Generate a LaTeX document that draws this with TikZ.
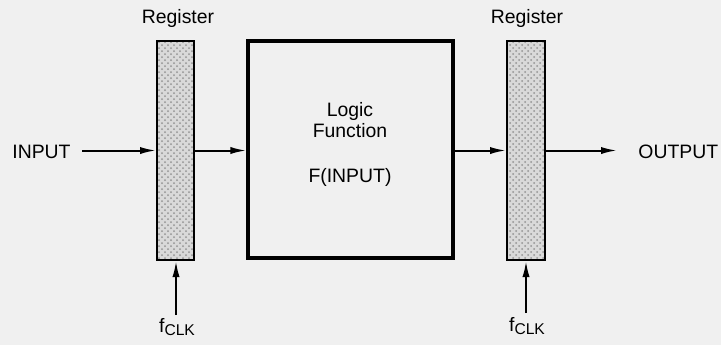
\documentclass[tikz,border=0pt]{standalone}
\usepackage{fontspec}
\setmainfont{Liberation Sans}
\usetikzlibrary{arrows.meta,patterns}
\definecolor{bgcol}{RGB}{240,240,240}
\begin{document}
\begin{tikzpicture}[x=0.5pt,y=-0.5pt,
  font=\fontsize{9.7}{10.5}\selectfont,
  reg/.style={draw, line width=1pt, inner sep=0pt, preaction={fill=gray!30},
    pattern=crosshatch dots, pattern color=gray!85},
  logicbox/.style={draw, line width=1.6pt, inner sep=0pt},
  arr/.style={line width=1pt, -{Latex[length=8pt,width=3.6pt]}},
  lbl/.style={inner sep=0pt}]
\fill[bgcol] (0,0) rectangle (721,345);
\useasboundingbox (0,0) rectangle (721,345);
% blocks
\node[reg, minimum width=18.5pt, minimum height=109.5pt] (r1) at (175.5,150.5) {};
\node[logicbox, minimum width=102.5pt, minimum height=108.5pt] (lf) at (350.5,149.5) {};
\node[reg, minimum width=19pt, minimum height=109.5pt] (r2) at (526,150.5) {};
% labels
\node[lbl, anchor=base] (reg1) at (178,23) {Register};
\node[lbl, anchor=base] (reg2) at (527,23) {Register};
\node[lbl, anchor=base west] (inp) at (12,158) {INPUT};
\node[lbl, anchor=base west] (outp) at (638,158) {OUTPUT};
\node[lbl, anchor=base] (t1) at (350,116) {Logic};
\node[lbl, anchor=base] (t2) at (350,137) {Function};
\node[lbl, anchor=base] (t3) at (350,182) {F(INPUT)};
\node[lbl, anchor=base] (clk1) at (177,332) {f\raisebox{-1.9pt}{\fontsize{7.8}{8}\selectfont CLK}};
\node[lbl, anchor=base] (clk2) at (527,331) {f\raisebox{-1.9pt}{\fontsize{7.8}{8}\selectfont CLK}};
% connector ends
\coordinate (ins) at (82,150.5);
\coordinate (oute) at (617,150.5);
\coordinate (c1) at (176,315);
\coordinate (c2) at (526,313);
% connectors
\draw[arr] (ins) -- (ins -| r1.west);
\draw[arr] (r1.east) -- (r1.east -| lf.west);
\draw[arr] (lf.east |- r2.west) -- (r2.west);
\draw[arr] (r2.east) -- (oute);
\draw[arr] (c1) -- (c1 |- r1.south);
\draw[arr] (c2) -- (c2 |- r2.south);
\end{tikzpicture}
\end{document}
